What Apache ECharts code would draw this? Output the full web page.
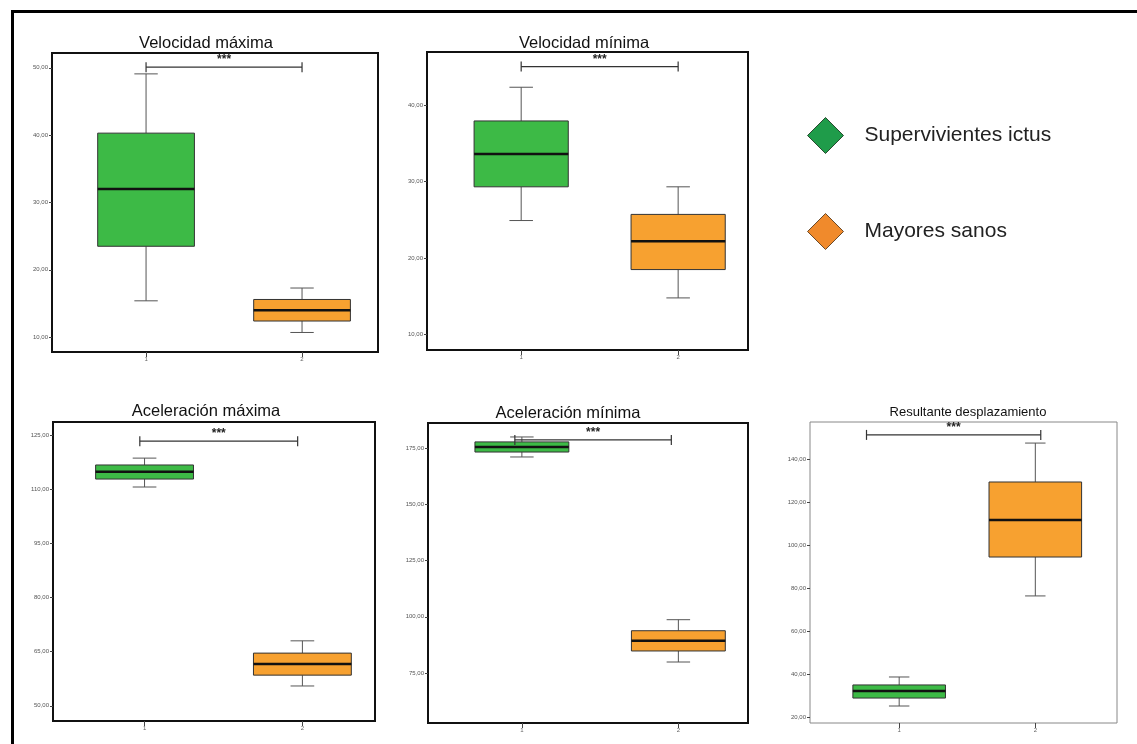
<!DOCTYPE html>
<html>
<head>
<meta charset="utf-8">
<script src="https://cdn.jsdelivr.net/npm/echarts@6/dist/echarts.min.js"></script>
<style>
  html, body { margin: 0; padding: 0; background: #fff; }
  #chart { width: 1137px; height: 744px; }
</style>
</head>
<body>
<div id="chart"></div>
<script>
// group names
var groups = ['Supervivientes ictus', 'Mayores sanos'];
var panelTitles = ['Velocidad máxima', 'Velocidad mínima', 'Aceleración máxima', 'Aceleración mínima', 'Resultante desplazamiento'];

// box stats per panel: [min, q1, median, q3, max]
var ictusStats = [
    [15.4, 23.5, 32.0, 40.3, 49.1],
    [24.9, 29.3, 33.6, 37.9, 42.3],
    [110.6, 112.8, 114.8, 116.7, 118.6],
    [171.0, 173.2, 175.4, 177.7, 179.9],
    [25.1, 28.8, 32.1, 34.9, 38.6]
];
var sanosStats = [
    [10.7, 12.4, 14.0, 15.6, 17.3],
    [14.8, 18.5, 22.2, 25.7, 29.3],
    [55.5, 58.5, 61.6, 64.6, 68.0],
    [79.9, 84.8, 89.3, 93.8, 98.7],
    [76.3, 94.4, 111.6, 129.3, 147.4]
];

// y tick values per panel
var yTicks = [
    [10, 20, 30, 40, 50],
    [10, 20, 30, 40],
    [50, 65, 80, 95, 110, 125],
    [75, 100, 125, 150, 175],
    [20, 40, 60, 80, 100, 120, 140]
];
var yRange = [[7.8, 52.2], [8.0, 46.9], [45.8, 128.6], [52.8, 186.1], [17.2, 157.2]];
var xRange = [[0.397, 2.487], [0.40, 2.445], [0.42, 2.46], [0.40, 2.445], [0.345, 2.60]];

// significance brackets: [x from, x to, y]
var brackets = [
    [1, 2, 50.1],
    [1, 2, 45.0],
    [0.97, 1.97, 123.3],
    [0.955, 1.955, 178.6],
    [0.76, 2.04, 151.2]
];

var grids = [
    { left: 52, top: 53, width: 326, height: 299 },
    { left: 427, top: 52, width: 321, height: 298 },
    { left: 53, top: 422, width: 322, height: 299 },
    { left: 428, top: 423, width: 320, height: 300 },
    { left: 810, top: 422, width: 307, height: 301 }
];
var titlePos = [[201, 30], [579, 30], [201, 398], [563, 400], [963, 401]];

var colors = ['#3dba46', '#f7a130'];
var boxWidths = [0.62, 0.60, 0.62, 0.60, 0.68];

function fmt(v) {
    return v.toFixed(2).replace('.', ',');
}

function boxRender(boxW) {
    return function (params, api) {
        var x = api.value(0);
        var lo = api.coord([x, api.value(1)]);
        var q1 = api.coord([x, api.value(2)]);
        var md = api.coord([x, api.value(3)]);
        var q3 = api.coord([x, api.value(4)]);
        var hi = api.coord([x, api.value(5)]);
        var left = api.coord([x - boxW / 2, api.value(3)])[0];
        var right = api.coord([x + boxW / 2, api.value(3)])[0];
        var capL = api.coord([x - 0.075, api.value(3)])[0];
        var capR = api.coord([x + 0.075, api.value(3)])[0];
        var line = { stroke: '#555', lineWidth: 1 };
        return {
            type: 'group',
            children: [
                { type: 'line', shape: { x1: hi[0], y1: hi[1], x2: q3[0], y2: q3[1] }, style: line },
                { type: 'line', shape: { x1: lo[0], y1: lo[1], x2: q1[0], y2: q1[1] }, style: line },
                { type: 'line', shape: { x1: capL, y1: hi[1], x2: capR, y2: hi[1] }, style: line },
                { type: 'line', shape: { x1: capL, y1: lo[1], x2: capR, y2: lo[1] }, style: line },
                { type: 'rect', shape: { x: left, y: q3[1], width: right - left, height: q1[1] - q3[1] },
                  style: { fill: api.visual('color'), stroke: '#333', lineWidth: 1 } },
                { type: 'line', shape: { x1: left, y1: md[1], x2: right, y2: md[1] },
                  style: { stroke: '#111', lineWidth: 2.5 } }
            ]
        };
    };
}

function bracketRender(params, api) {
    var a = api.coord([api.value(0), api.value(2)]);
    var b = api.coord([api.value(1), api.value(2)]);
    var s = { stroke: '#333', lineWidth: 1.2 };
    return {
        type: 'group',
        children: [
            { type: 'line', shape: { x1: a[0], y1: a[1], x2: b[0], y2: b[1] }, style: s },
            { type: 'line', shape: { x1: a[0], y1: a[1] - 5, x2: a[0], y2: a[1] + 5 }, style: s },
            { type: 'line', shape: { x1: b[0], y1: b[1] - 5, x2: b[0], y2: b[1] + 5 }, style: s },
            { type: 'text', style: { text: '***', x: (a[0] + b[0]) / 2, y: a[1] - 1,
              align: 'center', verticalAlign: 'bottom', fill: '#222', font: 'bold 12px "Liberation Sans"' } }
        ]
    };
}

var option = {
    backgroundColor: '#fff',
    animation: false,
    title: panelTitles.map(function (t, i) {
        return {
            text: t, left: titlePos[i][0], top: titlePos[i][1], textAlign: 'center',
            textStyle: { fontFamily: 'Liberation Sans', fontWeight: 'normal', color: '#111', fontSize: i === 4 ? 13 : 16.5 }
        };
    }),
    legend: {
        orient: 'vertical', left: 802, top: 112, itemWidth: 36, itemHeight: 36, itemGap: 59,
        icon: 'diamond', selectedMode: false,
        textStyle: { fontFamily: 'Liberation Sans', fontSize: 21, color: '#222', padding: [0, 0, 0, 16] },
        data: [
            { name: groups[0], itemStyle: { color: '#1f9c4a', borderColor: '#2a4a30', borderWidth: 1 } },
            { name: groups[1], itemStyle: { color: '#f08a2c', borderColor: '#6a4a2a', borderWidth: 1 } }
        ]
    },
    graphic: [{
        type: 'rect', left: 10, top: 9, silent: true,
        shape: { width: 1150, height: 760 },
        style: { fill: 'none', stroke: '#000', lineWidth: 3 }
    }],
    grid: grids.map(function (g, i) {
        return {
            left: g.left, top: g.top, width: g.width, height: g.height, show: true,
            borderColor: i === 4 ? '#888' : '#111', borderWidth: i === 4 ? 1 : 2
        };
    }),
    xAxis: grids.map(function (g, i) {
        return {
            type: 'value', gridIndex: i, min: xRange[i][0], max: xRange[i][1],
            splitLine: { show: false },
            axisLine: { show: false },
            axisTick: { show: true, length: 5, customValues: [1, 2], lineStyle: { color: '#444' } },
            axisLabel: { customValues: [1, 2], fontSize: 6, color: '#666', margin: 4, formatter: function (v) { return String(v); } }
        };
    }),
    yAxis: grids.map(function (g, i) {
        return {
            type: 'value', gridIndex: i, min: yRange[i][0], max: yRange[i][1],
            splitLine: { show: false },
            axisLine: { show: false },
            axisTick: { show: true, length: 3, customValues: yTicks[i], lineStyle: { color: '#444' } },
            axisLabel: { customValues: yTicks[i], fontSize: 6, color: '#555', margin: 4, formatter: fmt }
        };
    }),
    series: []
};

for (var i = 0; i < 5; i++) {
    [ictusStats, sanosStats].forEach(function (stats, k) {
        option.series.push({
            type: 'custom', name: groups[k], xAxisIndex: i, yAxisIndex: i,
            itemStyle: { color: colors[k] },
            renderItem: boxRender(boxWidths[i]),
            encode: { x: 0, y: [1, 2, 3, 4, 5] },
            data: [[k + 1].concat(stats[i])]
        });
    });
    option.series.push({
        type: 'custom', name: 'sig' + i, xAxisIndex: i, yAxisIndex: i,
        renderItem: bracketRender,
        encode: { x: [0, 1], y: 2 },
        data: [brackets[i]]
    });
}

var chart = echarts.init(document.getElementById('chart'));
chart.setOption(option);
</script>
</body>
</html>
